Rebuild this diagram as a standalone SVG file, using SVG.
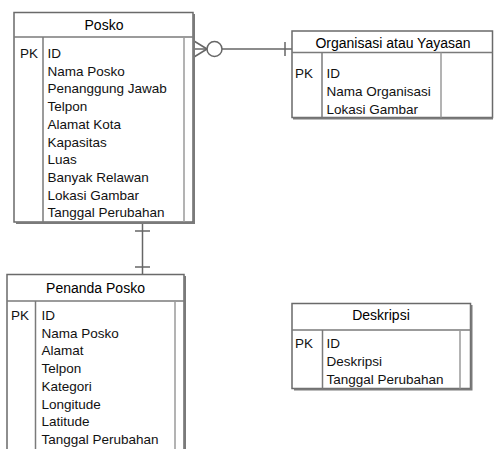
<svg xmlns="http://www.w3.org/2000/svg" width="494" height="449" viewBox="0 0 494 449">
<style>
.box{fill:#fff;stroke:#6a6a6a;stroke-width:1.5}
.shadow{fill:none;stroke:#7a7a7a;stroke-width:2}
.div{stroke:#7a7a7a;stroke-width:1.5;fill:none}
.inner{stroke:#9a9a9a;stroke-width:1.5;fill:none}
.t{font-family:"Liberation Sans",Arial,sans-serif;font-size:13.5px;fill:#111}
.h{text-anchor:middle;font-size:14px;fill:#000}
.conn{stroke:#666;stroke-width:1.5;fill:none}
</style>
<rect width="494" height="449" fill="#fff"/>

<g id="connectors">
  <!-- Posko to Organisasi -->
  <line class="conn" x1="194" y1="49" x2="207" y2="49"/>
  <line class="conn" x1="194" y1="41" x2="207" y2="49"/>
  <line class="conn" x1="194" y1="57" x2="207" y2="49"/>
  <circle class="conn" cx="214.5" cy="49" r="7.5"/>
  <line class="conn" x1="222" y1="49" x2="292" y2="49"/>
  <line class="conn" x1="285" y1="42" x2="285" y2="56"/>
  <!-- Posko to Penanda Posko -->
  <line class="conn" x1="142.5" y1="222" x2="142.5" y2="274"/>
  <line class="conn" x1="135" y1="231" x2="150" y2="231"/>
  <line class="conn" x1="135" y1="267" x2="150" y2="267"/>
</g>

<g id="posko">
  <rect class="box" x="14" y="12.5" width="179" height="209.5"/>
  <polyline class="shadow" points="194,14 194,223 16,223"/>
  <line class="div" x1="14" y1="37" x2="193" y2="37"/>
  <line class="div" x1="43" y1="37" x2="43" y2="222"/>
  <line class="inner" x1="184" y1="37" x2="184" y2="222"/>
  <text class="t h" x="104" y="30">Posko</text>
  <text class="t" x="20" y="58">PK</text>
  <text class="t" x="47.5" y="58">ID</text>
  <text class="t" x="47.5" y="75.7">Nama Posko</text>
  <text class="t" x="47.5" y="93.4">Penanggung Jawab</text>
  <text class="t" x="47.5" y="111.1">Telpon</text>
  <text class="t" x="47.5" y="128.8">Alamat Kota</text>
  <text class="t" x="47.5" y="146.5">Kapasitas</text>
  <text class="t" x="47.5" y="164.2">Luas</text>
  <text class="t" x="47.5" y="181.9">Banyak Relawan</text>
  <text class="t" x="47.5" y="199.6">Lokasi Gambar</text>
  <text class="t" x="47.5" y="217.3">Tanggal Perubahan</text>
</g>

<g id="organisasi">
  <rect class="box" x="292" y="31" width="200.5" height="86.5"/>
  <polyline class="shadow" points="293,118.5 493,118.5"/>
  <line class="div" x1="292" y1="52.5" x2="492.5" y2="52.5"/>
  <line class="div" x1="322" y1="52.5" x2="322" y2="117.5"/>
  <line class="inner" x1="441" y1="52.5" x2="441" y2="117.5"/>
  <text class="t h" x="393" y="48">Organisasi atau Yayasan</text>
  <text class="t" x="295" y="78">PK</text>
  <text class="t" x="326.5" y="78">ID</text>
  <text class="t" x="326.5" y="96">Nama Organisasi</text>
  <text class="t" x="326.5" y="114">Lokasi Gambar</text>
</g>

<g id="penanda-posko">
  <rect class="box" x="7" y="274.5" width="177" height="180"/>
  <polyline class="shadow" points="185,276 185,449"/>
  <line class="div" x1="7" y1="301" x2="184" y2="301"/>
  <line class="div" x1="35.5" y1="301" x2="35.5" y2="449"/>
  <line class="inner" x1="175" y1="301" x2="175" y2="449"/>
  <text class="t h" x="95.5" y="293">Penanda Posko</text>
  <text class="t" x="11" y="320">PK</text>
  <text class="t" x="41.5" y="320">ID</text>
  <text class="t" x="41.5" y="337.7">Nama Posko</text>
  <text class="t" x="41.5" y="355.4">Alamat</text>
  <text class="t" x="41.5" y="373.1">Telpon</text>
  <text class="t" x="41.5" y="390.8">Kategori</text>
  <text class="t" x="41.5" y="408.5">Longitude</text>
  <text class="t" x="41.5" y="426.2">Latitude</text>
  <text class="t" x="41.5" y="443.9">Tanggal Perubahan</text>
</g>

<g id="deskripsi">
  <rect class="box" x="292" y="303.5" width="178.5" height="85"/>
  <polyline class="shadow" points="471.5,305 471.5,389.5 294,389.5"/>
  <line class="div" x1="292" y1="330" x2="470.5" y2="330"/>
  <line class="div" x1="322.5" y1="330" x2="322.5" y2="388.5"/>
  <line class="inner" x1="460" y1="330" x2="460" y2="388.5"/>
  <text class="t h" x="381" y="320">Deskripsi</text>
  <text class="t" x="295" y="348">PK</text>
  <text class="t" x="326.5" y="348">ID</text>
  <text class="t" x="326.5" y="366">Deskripsi</text>
  <text class="t" x="326.5" y="384">Tanggal Perubahan</text>
</g>
</svg>
